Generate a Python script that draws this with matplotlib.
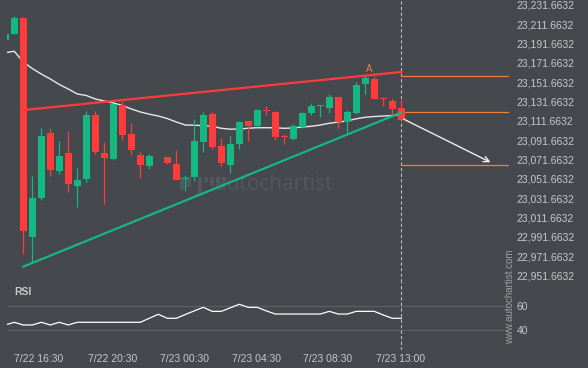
#use numpy and matplotlib packages
import numpy as np
import matplotlib
matplotlib.use('Agg')
import matplotlib.pyplot as plt
from matplotlib.patches import Rectangle

#candle data, 30 minute bars
opens = [23195.5, 23201.7, 23217.9, 22991.9, 23031.9, 23099.1, 23060.1, 23078.1, 23044.6, 23051.8,
         23117.7, 23078.4, 23072.5, 23127.7, 23098.0, 23076.3, 23065.3, 23076.3, 23074.2, 23067.0,
         23051.5, 23053.9, 23090.1, 23118.7, 23085.6, 23066.3, 23088.0, 23111.5, 23106.6, 23122.8,
         23120.8, 23095.6, 23093.2, 23105.3, 23120.0, 23127.0, 23125.2, 23136.3, 23110.7, 23119.7,
         23150.0, 23154.9, 23134.5, 23132.1, 23124.9]
highs = [23201.4, 23220.0, 23218.5, 23054.6, 23104.2, 23104.2, 23090.8, 23101.1, 23062.9, 23121.8,
         23121.8, 23089.4, 23129.3, 23132.4, 23109.4, 23079.4, 23077.0, 23076.3, 23074.2, 23081.5,
         23055.6, 23113.5, 23120.5, 23120.5, 23093.6, 23095.6, 23111.8, 23111.5, 23124.2, 23127.0,
         23121.8, 23098.0, 23108.4, 23120.5, 23130.1, 23128.0, 23139.4, 23136.3, 23122.8, 23151.8,
         23158.7, 23158.0, 23136.6, 23134.9, 23133.9]
lows = [23195.5, 23201.1, 22974.0, 22965.0, 23029.8, 23054.3, 23056.4, 23038.4, 23022.3, 23048.7,
        23077.0, 23025.4, 23070.8, 23092.1, 23076.3, 23052.9, 23062.2, 23075.8, 23067.0, 23050.2,
        23038.8, 23049.8, 23079.1, 23082.2, 23064.9, 23057.4, 23082.2, 23090.5, 23104.9, 23117.4,
        23091.8, 23087.4, 23091.5, 23104.2, 23117.7, 23115.3, 23119.4, 23103.9, 23098.3, 23118.7,
        23139.1, 23134.5, 23127.0, 23118.7, 23112.8]
closes = [23201.4, 23217.9, 22998.1, 23031.9, 23096.0, 23061.1, 23075.6, 23046.7, 23050.5, 23117.7,
          23079.7, 23073.5, 23129.3, 23097.3, 23081.8, 23066.3, 23075.3, 23075.8, 23068.0, 23050.8,
          23052.9, 23090.8, 23117.7, 23084.9, 23068.0, 23087.7, 23110.4, 23106.6, 23122.8, 23122.0,
          23095.2, 23094.9, 23106.3, 23119.7, 23127.0, 23127.8, 23136.3, 23110.7, 23120.8, 23148.7,
          23155.9, 23134.5, 23133.9, 23124.2, 23112.8]

#moving average line
ma_values = [23182.1, 23183.5, 23172.4, 23165.7, 23160.0, 23154.9, 23149.2, 23144.5, 23139.4, 23137.8,
             23134.2, 23132.1, 23130.1, 23127.5, 23123.9, 23120.8, 23118.5, 23116.6, 23114.0, 23110.4,
             23107.3, 23107.1, 23106.6, 23106.0, 23103.9, 23103.0, 23103.2, 23104.0, 23104.5, 23104.5,
             23104.4, 23103.9, 23104.2, 23105.3, 23106.0, 23107.3, 23109.1, 23110.4, 23111.5, 23113.8,
             23115.3, 23116.1, 23116.6, 23117.1, 23117.7]

#rsi values
rsi_values = [44.4, 46.6, 44.4, 44.4, 46.6, 44.4, 46.6, 44.4, 46.6, 46.6,
              46.6, 46.6, 46.6, 46.6, 46.6, 46.6, 49.9, 53.2, 49.9, 49.9,
              53.0, 56.0, 58.9, 55.6, 55.6, 58.5, 61.4, 58.9, 58.9, 56.0,
              53.4, 53.4, 53.4, 53.4, 53.4, 53.4, 55.6, 53.4, 53.4, 55.6,
              55.6, 55.6, 52.6, 49.9, 49.9]

#pattern lines (start index, end index, start price, end price)
resistance = [2, 44, 23122.8, 23162.1]
support = [2, 44, 22960.9, 23120.2]
#forecast levels and arrow
levels = [23158.3, 23120.5, 23066.0]
arrow_start = [44, 23114.6]
arrow_end = [54.2, 23067.5]
point_a = [40.4, 23164.9]

#axis labels
price_ticks = [22951.6632 + 20 * k for k in range(15)]
time_pos = [3.74, 11.91, 19.86, 27.86, 35.86, 43.9]
time_labels = ['7/22 16:30', '7/22 20:30', '7/23 00:30', '7/23 04:30', '7/23 08:30', '7/23 13:00']

bg = '#45484d'
txt = '#c8c8c8'
green = '#14b982'
red = '#ff3b3b'
orange = '#f07f3e'

fig = plt.figure(figsize=(5.88, 3.68), dpi=100, facecolor=bg)
W, H = 588.0, 368.0
ax = fig.add_axes([7 / W, 1 - 282 / H, 502 / W, 282 / H], facecolor=bg)
ax_rsi = fig.add_axes([7 / W, 1 - 350 / H, 502 / W, 68 / H], facecolor=bg)

x = np.arange(len(opens))
o = np.array(opens)
c = np.array(closes)
up = c >= o
colors = np.where(up, green, red)
body = np.maximum(np.abs(c - o), 0.9)
bottom = np.minimum(o, c)

#wicks then bodies
ax.vlines(x, lows, highs, colors=colors, linewidth=0.9, zorder=3)
ax.bar(x, body, bottom=bottom, width=0.74, color=colors, linewidth=0, zorder=4)

#moving average
ax.plot(x, ma_values, color='#e8e8e8', linewidth=1.0, zorder=2)

#triangle lines
ax.plot(resistance[:2], resistance[2:], color=red, linewidth=1.6, zorder=5)
ax.plot(support[:2], support[2:], color=green, linewidth=1.6, zorder=5)

#forecast levels
xmax = 55.97
ax.hlines(levels, [44, 43.63, 44], xmax, colors=orange, linewidth=0.9, zorder=2)
ax.annotate('', xy=arrow_end, xytext=arrow_start,
            arrowprops=dict(arrowstyle='->', color='#eeeeee', lw=1.0, mutation_scale=10), zorder=6)
ax.text(point_a[0], point_a[1], 'A', color=orange, fontsize=7, ha='center', va='center',
        family='Liberation Sans')

#watermark
ax.text(0.414, 0.344, 'autochartist', transform=ax.transAxes, color='#54575c', fontsize=15,
        family='Open Sans', va='center', ha='left', zorder=1)
logo_x = [0.345, 0.358, 0.381, 0.393, 0.405, 0.417, 0.429]
logo_h = [0.045, 0.035, 0.060, 0.018, 0.032, 0.022, 0.022]
for lx, lh in zip(logo_x, logo_h):
    ax.add_patch(Rectangle((lx, 0.372 - lh), 0.008, lh, transform=ax.transAxes,
                           color='#54575c', linewidth=0, zorder=1))

#dashed marker line
for a in (ax, ax_rsi):
    a.axvline(44, color='#bbbbbb', linestyle=(0, (3, 2)), linewidth=0.8, zorder=1)
    a.set_xlim(0.19, xmax)
    for s in a.spines.values():
        s.set_visible(False)
    a.tick_params(length=0, colors=txt, labelsize=7.5)

ax.set_ylim(22945.04, 23236.52)
ax.yaxis.tick_right()
ax.set_yticks(price_ticks)
ax.set_yticklabels(['{:,.4f}'.format(p) for p in price_ticks], family='Liberation Sans')
ax.tick_params(axis='y', pad=5.5)
ax.set_xticks([])

#rsi panel
ax_rsi.plot(x, rsi_values, color='white', linewidth=0.9)
ax_rsi.set_ylim(23.8, 79.75)
ax_rsi.yaxis.tick_right()
ax_rsi.set_yticks([60, 40])
ax_rsi.set_yticklabels(['60', '40'], family='Liberation Sans')
ax_rsi.tick_params(axis='y', pad=5.5)
ax_rsi.axhline(60, color='#5c5f64', linewidth=0.8, zorder=0)
ax_rsi.axhline(40, color='#5c5f64', linewidth=0.8, zorder=0)
ax_rsi.set_xticks(time_pos)
ax_rsi.set_xticklabels(time_labels, family='Liberation Sans')
ax_rsi.tick_params(axis='x', pad=3)
ax_rsi.text(0.014, 0.85, 'RSI', transform=ax_rsi.transAxes, color=txt, fontsize=7.5,
            fontweight='bold', family='Liberation Sans', va='center')

#vertical site text
fig.text(510 / W, 1 - 297 / H, 'www.autochartist.com', rotation=90, color='#a0a0a0',
         fontsize=7, family='Liberation Sans', ha='center', va='center')

plt.savefig('out.png', dpi=100, facecolor=bg)
